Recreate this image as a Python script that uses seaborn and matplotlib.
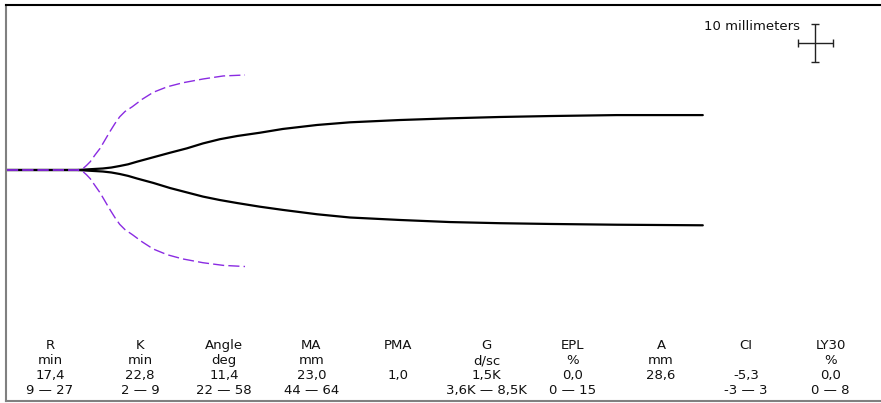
import matplotlib
matplotlib.use("Agg")
import matplotlib.pyplot as plt
import pandas as pd
import seaborn as sns

# Clot tracing: time (min) and half-amplitude above / below the baseline (mm)
trace_time = [0, 10.0, 13.7, 14.9, 16.1, 17.3, 18.6, 20.9, 23.3, 25.7, 28.0,
              30.4, 32.9, 36.1, 39.4, 44.3, 49.0, 56.1, 63.3, 70.4, 77.6,
              87.1, 99.4]
trace_upper = [0, 0, 0.4, 0.65, 1.05, 1.5, 2.2, 3.35, 4.55, 5.7, 7.0,
               8.1, 8.95, 9.8, 10.8, 11.85, 12.55, 13.15, 13.6, 13.95, 14.2,
               14.45, 14.45]
trace_lower = [0, 0, 0.4, 0.65, 1.05, 1.55, 2.25, 3.4, 4.75, 5.9, 7.0,
               7.9, 8.7, 9.65, 10.5, 11.65, 12.5, 13.15, 13.7, 14.0, 14.2,
               14.4, 14.55]

# Reference envelope (normal range)
ref_time = [0, 10.0, 10.9, 11.36, 11.9, 12.57, 13.3, 14.0, 14.7, 15.43,
            16.1, 16.86, 17.9, 19.3, 20.9, 22.9, 25.1, 28.0, 30.9, 34.0]
ref_upper = [0, 0, 0.45, 1.2, 2.2, 3.95, 5.7, 7.9, 10.1, 12.25,
             14.0, 15.4, 16.65, 18.6, 20.45, 21.9, 22.95, 23.95, 24.75, 25.0]
ref_lower = [0, 0, 0.5, 1.25, 2.3, 4.1, 6.0, 8.2, 10.4, 12.55,
             14.3, 15.7, 17.0, 18.9, 20.8, 22.3, 23.4, 24.4, 25.1, 25.4]

# Parameter table
param_names = ["R", "K", "Angle", "MA", "PMA", "G", "EPL", "A", "CI", "LY30"]
param_units = ["min", "min", "deg", "mm", "", "d/sc", "%", "mm", "", "%"]
param_values = ["17,4", "22,8", "11,4", "23,0", "1,0", "1,5K", "0,0", "28,6", "-5,3", "0,0"]
param_ranges = ["9 — 27", "2 — 9", "22 — 58", "44 — 64", "", "3,6K — 8,5K",
                "0 — 15", "", "-3 — 3", "0 — 8"]

# Scale bar: 10 mm each way (chart speed 2 mm/min -> 5 min)
scale_label = "10 millimeters"
scale_half_time = 2.5
scale_half_amp = 5.0

sns.set_style("white")
plt.rcParams["font.family"] = ["DejaVu Sans"]

W, H = 881, 403
fig = plt.figure(figsize=(W / 100, H / 100), dpi=100)
ax = fig.add_axes([6 / W, 2 / H, 875 / W, 396 / H])

PX_PER_MIN = 7.0
PX_PER_MM = 3.8
ax.set_xlim(-1 / PX_PER_MIN, 874 / PX_PER_MIN)
ax.set_ylim((170 - 401) / PX_PER_MM, (170 - 5) / PX_PER_MM)

trace = pd.DataFrame({"t": trace_time, "up": trace_upper,
                      "lo": [-v for v in trace_lower]})
ref = pd.DataFrame({"t": ref_time, "up": ref_upper,
                    "lo": [-v for v in ref_lower]})

for col in ("up", "lo"):
    sns.lineplot(data=trace, x="t", y=col, ax=ax, color="black", lw=1.6,
                 estimator=None, sort=False, zorder=2)
purple = "#8A2BE2"
for col in ("up", "lo"):
    sns.lineplot(data=ref, x="t", y=col, ax=ax, color=purple, lw=1.0,
                 estimator=None, sort=False, zorder=3, linestyle=(0, (8, 3)))

# scale cross
cx = (815 - 7) / PX_PER_MIN
cy = (170 - 43.3) / PX_PER_MM
ax.errorbar([cx], [cy], xerr=scale_half_time, yerr=scale_half_amp, fmt="none",
            ecolor="#222222", elinewidth=1.0, capsize=3.0, capthick=1.0)
fig.text(800 / W, 1 - 30 / H, scale_label, ha="right", va="baseline",
         fontsize=9.5, color="#111111")

ax.set_xticks([])
ax.set_yticks([])
ax.set_xlabel("")
ax.set_ylabel("")
ax.spines["right"].set_visible(False)
ax.spines["top"].set_color("black")
ax.spines["top"].set_linewidth(1.5)
for s in ("left", "bottom"):
    ax.spines[s].set_color("#808080")
    ax.spines[s].set_linewidth(1.5)

col_x = [50, 140, 224, 311.5, 398, 486.5, 572.5, 661, 746, 830.5]
row_y = [349, 364, 379, 394]
for i, x in enumerate(col_x):
    for row, y in zip((param_names, param_units, param_values, param_ranges), row_y):
        if row[i]:
            fig.text(x / W, 1 - y / H, row[i], ha="center", va="baseline",
                     fontsize=9.5, color="#111111")

fig.savefig("out.png", dpi=100)
